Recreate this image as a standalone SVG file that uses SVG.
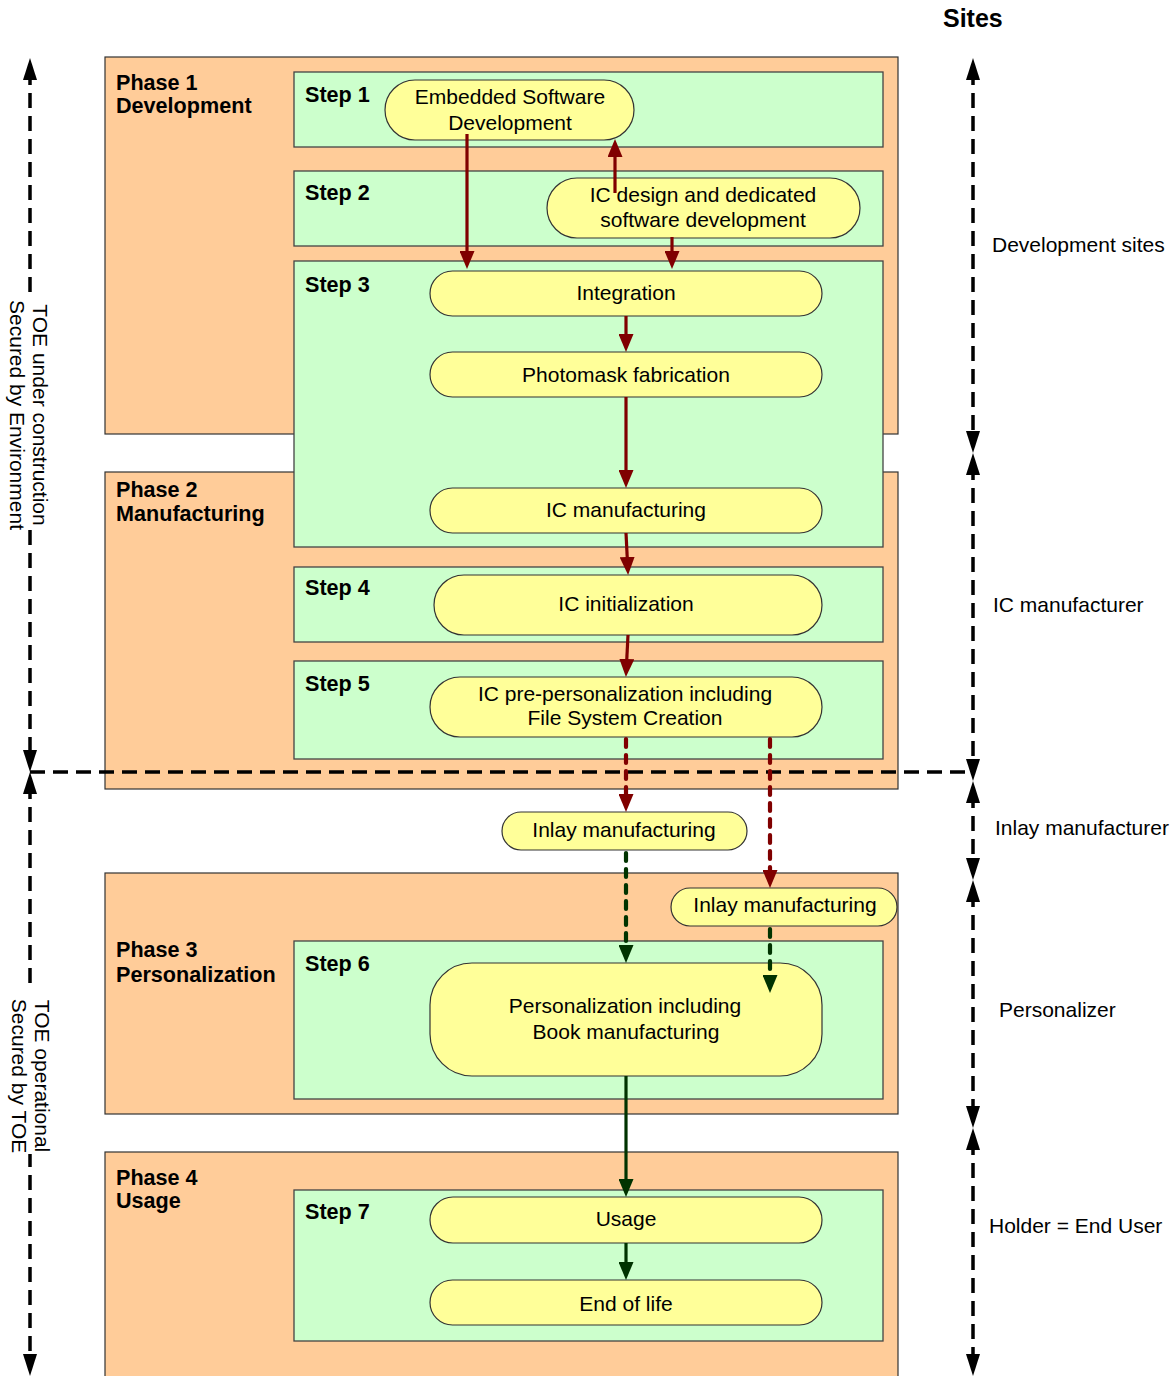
<svg xmlns="http://www.w3.org/2000/svg" width="1174" height="1376" viewBox="0 0 1174 1376">
<style>
text{font-family:"Liberation Sans",Arial,sans-serif;font-size:21px;fill:#000}
.b{font-weight:bold;font-size:21.6px}
.c{text-anchor:middle}
.phase{fill:#FFCC99;stroke:#333;stroke-width:1.2}
.step{fill:#CCFFCC;stroke:#444;stroke-width:1.3}
.node{fill:#FFFF99;stroke:#333;stroke-width:1.2}
.blk{fill:none;stroke:#000;stroke-width:3.5;stroke-dasharray:15 8}
.red{fill:none;stroke:#800000;stroke-width:3.2}
.grn{fill:none;stroke:#003300;stroke-width:3.2}
.dash{stroke-dasharray:8 8;stroke-width:4.2;stroke-linecap:round}
</style>
<defs>
<marker id="ab" markerUnits="userSpaceOnUse" viewBox="0 0 22 14" refX="10" refY="7" markerWidth="22" markerHeight="14" orient="auto-start-reverse"><path d="M0,0 L22,7 L0,14 z" fill="#000"/></marker>
<marker id="ar" markerUnits="userSpaceOnUse" viewBox="0 0 18 15" refX="8" refY="7.5" markerWidth="18" markerHeight="15" orient="auto"><path d="M0,0 L18,7.5 L0,15 z" fill="#800000"/></marker>
<marker id="ag" markerUnits="userSpaceOnUse" viewBox="0 0 18 15" refX="8" refY="7.5" markerWidth="18" markerHeight="15" orient="auto"><path d="M0,0 L18,7.5 L0,15 z" fill="#003300"/></marker>
</defs>
<rect width="1174" height="1376" fill="#fff"/>

<g id="phase1"><rect class="phase" x="105" y="57" width="793" height="377"/><text class="b" x="116" y="90">Phase 1</text><text class="b" x="116" y="113">Development</text></g>
<g id="phase2"><rect class="phase" x="105" y="472" width="793" height="317"/><text class="b" x="116" y="497">Phase 2</text><text class="b" x="116" y="521">Manufacturing</text></g>
<g id="phase3"><rect class="phase" x="105" y="873" width="793" height="241"/><text class="b" x="116" y="957">Phase 3</text><text class="b" x="116" y="982">Personalization</text></g>
<g id="phase4"><rect class="phase" x="105" y="1152" width="793" height="240"/><text class="b" x="116" y="1185">Phase 4</text><text class="b" x="116" y="1208">Usage</text></g>

<g id="step1"><rect class="step" x="294" y="72" width="589" height="75"/><text class="b" x="305" y="102">Step 1</text></g>
<g id="step2"><rect class="step" x="294" y="171" width="589" height="75"/><text class="b" x="305" y="200">Step 2</text></g>
<g id="step3"><rect class="step" x="294" y="261" width="589" height="286"/><text class="b" x="305" y="292">Step 3</text></g>
<g id="step4"><rect class="step" x="294" y="567" width="589" height="75"/><text class="b" x="305" y="595">Step 4</text></g>
<g id="step5"><rect class="step" x="294" y="661" width="589" height="98"/><text class="b" x="305" y="691">Step 5</text></g>
<g id="step6"><rect class="step" x="294" y="941" width="589" height="158"/><text class="b" x="305" y="971">Step 6</text></g>
<g id="step7"><rect class="step" x="294" y="1190" width="589" height="151"/><text class="b" x="305" y="1219">Step 7</text></g>

<g id="n-esd"><rect class="node" x="385" y="80" width="249" height="60" rx="30"/><text class="c" x="510" y="104">Embedded Software</text><text class="c" x="510" y="130">Development</text></g>
<g id="n-icdesign"><rect class="node" x="547" y="178" width="313" height="60" rx="30"/><text class="c" x="703" y="202">IC design and dedicated</text><text class="c" x="703" y="227">software development</text></g>
<g id="n-integration"><rect class="node" x="430" y="271" width="392" height="45" rx="22.5"/><text class="c" x="626" y="300">Integration</text></g>
<g id="n-photomask"><rect class="node" x="430" y="352" width="392" height="45" rx="22.5"/><text class="c" x="626" y="382">Photomask fabrication</text></g>
<g id="n-icmanuf"><rect class="node" x="430" y="488" width="392" height="45" rx="22.5"/><text class="c" x="626" y="517">IC manufacturing</text></g>
<g id="n-icinit"><rect class="node" x="434" y="575" width="388" height="60" rx="30"/><text class="c" x="626" y="611">IC initialization</text></g>
<g id="n-icprepers"><rect class="node" x="430" y="677" width="392" height="60" rx="30"/><text class="c" x="625" y="701">IC pre-personalization including</text><text class="c" x="625" y="725">File System Creation</text></g>
<g id="n-inlay1"><rect class="node" x="502" y="812" width="245" height="38" rx="19"/><text class="c" x="624" y="837">Inlay manufacturing</text></g>
<g id="n-inlay2"><rect class="node" x="671" y="888" width="226" height="38" rx="19"/><text class="c" x="785" y="912">Inlay manufacturing</text></g>
<g id="n-perso"><rect class="node" x="430" y="963" width="392" height="113" rx="42"/><text class="c" x="625" y="1013">Personalization including</text><text class="c" x="626" y="1039">Book manufacturing</text></g>
<g id="n-usage"><rect class="node" x="430" y="1197" width="392" height="46" rx="23"/><text class="c" x="626" y="1226">Usage</text></g>
<g id="n-eol"><rect class="node" x="430" y="1280" width="392" height="45" rx="22.5"/><text class="c" x="626" y="1311">End of life</text></g>

<g id="sites">
<text class="b" x="943" y="27" style="font-size:25px">Sites</text>
<text x="992" y="252">Development sites</text>
<text x="993" y="612">IC manufacturer</text>
<text x="995" y="835">Inlay manufacturer</text>
<text x="999" y="1017">Personalizer</text>
<text x="989" y="1233">Holder = End User</text>
</g>

<g id="connectors">
<line class="blk" x1="30" y1="772" x2="973" y2="772"/>
<line class="blk" x1="30" y1="70" x2="30" y2="760" marker-start="url(#ab)" marker-end="url(#ab)"/>
<line class="blk" x1="30" y1="784" x2="30" y2="1364" marker-start="url(#ab)" marker-end="url(#ab)"/>
<line class="blk" x1="973" y1="70" x2="973" y2="441" marker-start="url(#ab)" marker-end="url(#ab)"/>
<line class="blk" x1="973" y1="465" x2="973" y2="769" marker-start="url(#ab)" marker-end="url(#ab)"/>
<line class="blk" x1="973" y1="793" x2="973" y2="868" marker-start="url(#ab)" marker-end="url(#ab)"/>
<line class="blk" x1="973" y1="892" x2="973" y2="1116" marker-start="url(#ab)" marker-end="url(#ab)"/>
<line class="blk" x1="973" y1="1140" x2="973" y2="1364" marker-start="url(#ab)" marker-end="url(#ab)"/>

<line class="red" x1="467" y1="134" x2="467" y2="259" marker-end="url(#ar)"/>
<line class="red" x1="615" y1="193" x2="615" y2="149" marker-end="url(#ar)"/>
<line class="red" x1="672" y1="237" x2="672" y2="259" marker-end="url(#ar)"/>
<line class="red" x1="626" y1="316" x2="626" y2="342" marker-end="url(#ar)"/>
<line class="red" x1="626" y1="397" x2="626" y2="478" marker-end="url(#ar)"/>
<line class="red" x1="626" y1="533" x2="627.6" y2="565" marker-end="url(#ar)"/>
<line class="red" x1="628" y1="635" x2="626.4" y2="667" marker-end="url(#ar)"/>
<line class="red dash" x1="626" y1="739" x2="626" y2="802" marker-end="url(#ar)"/>
<line class="red dash" x1="770" y1="739" x2="770" y2="878" marker-end="url(#ar)"/>
<line class="grn dash" x1="626" y1="853" x2="626" y2="953" marker-end="url(#ag)"/>
<line class="grn dash" x1="770" y1="929" x2="770" y2="983" marker-end="url(#ag)"/>
<line class="grn" x1="626" y1="1076" x2="626" y2="1187" marker-end="url(#ag)"/>
<line class="grn" x1="626" y1="1243" x2="626" y2="1270" marker-end="url(#ag)"/>
</g>

<g id="label-left-top">
<rect x="22" y="292" width="16" height="232" fill="#fff"/>
<g transform="translate(33,415) rotate(90)"><text class="c" x="0" y="0">TOE under construction</text><text class="c" x="0" y="23">Secured by Environment</text></g>
</g>
<g id="label-left-bottom">
<rect x="22" y="985" width="16" height="169" fill="#fff"/>
<g transform="translate(35,1076) rotate(90)"><text class="c" x="0" y="0">TOE operational</text><text class="c" x="0" y="23">Secured by TOE</text></g>
</g>
</svg>
